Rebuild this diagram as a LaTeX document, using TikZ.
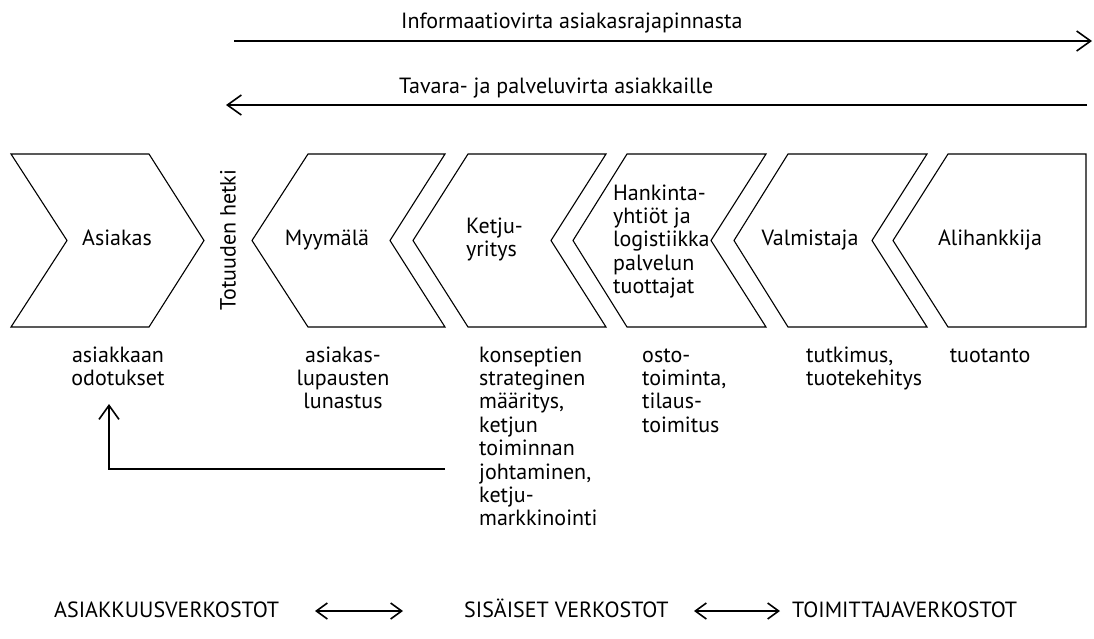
\documentclass[tikz,border=0pt]{standalone}
\usepackage{fontspec}
\setmainfont{PT Sans}
\usetikzlibrary{arrows.meta}
\begin{document}
\begin{tikzpicture}[x=1pt,y=-1pt,
  shp/.style={draw, line width=1.1pt, line join=miter},
  lbl/.style={font=\fontsize{22}{23.4}\selectfont, inner sep=0pt},
  captxt/.style={font=\fontsize{22}{24}\selectfont, inner sep=0pt},
  flow/.style={line width=1.8pt, -{Straight Barb[length=14pt,width=20pt,line width=1.6pt]}},
  fb/.style={line width=1.8pt, -{Straight Barb[length=14pt,width=20pt,line width=1.6pt]}},
  dbl/.style={line width=2pt, {Straight Barb[length=11pt,width=16pt,line width=1.6pt]}-{Straight Barb[length=11pt,width=16pt,line width=1.6pt]}}]
\useasboundingbox (0,0) rectangle (1094,638);
% flows at top
\node[captxt, anchor=base west] (info) at (401,28) {Informaatiovirta asiakasrajapinnasta};
\node[captxt, anchor=base west] (tav) at (399,93) {Tavara- ja palveluvirta asiakkaille};
\coordinate (i1) at (234,41); \coordinate (i2) at (1092,41);
\coordinate (t1) at (1087,105); \coordinate (t2) at (226,105);
\draw[flow] (i1) -- (i2);
\draw[flow] (t1) -- (t2);
% chevrons
\def\ym{240.5}
\draw[shp] (11,154) -- (149,154) -- (204,\ym) -- (149,327) -- (11,327) -- (67,\ym) -- cycle;
\draw[shp] (308,154) -- (445,154) -- (390,\ym) -- (445,327) -- (308,327) -- (252,\ym) -- cycle;
\draw[shp] (468,154) -- (606,154) -- (551,\ym) -- (606,327) -- (468,327) -- (413,\ym) -- cycle;
\draw[shp] (627,154) -- (766,154) -- (711,\ym) -- (766,327) -- (627,327) -- (573,\ym) -- cycle;
\draw[shp] (788,154) -- (927,154) -- (872,\ym) -- (927,327) -- (788,327) -- (734,\ym) -- cycle;
\draw[shp] (948,154) -- (1086,154) -- (1086,327) -- (948,327) -- (893,\ym) -- cycle;
% shape labels (multi-line nodes: base = last line)
\node[lbl, anchor=base] (asiakas) at (117,245) {Asiakas};
\node[lbl, anchor=center, rotate=90] (totuus) at (228,240) {Totuuden hetki};
\node[lbl, anchor=base] (myymala) at (327,245) {Myymälä};
\node[lbl, anchor=base west, align=left] (ketju) at (466,256.4) {Ketju-\\yritys};
\node[lbl, anchor=base west, align=left] (hank) at (613,293.6) {Hankinta-\\yhtiöt ja\\logistiikka\\palvelun\\tuottajat};
\node[lbl, anchor=base] (valm) at (810,245) {Valmistaja};
\node[lbl, anchor=base] (ali) at (990,245) {Alihankkija};
% lower labels
\node[lbl, anchor=base, align=center] (odot) at (118,385.4) {asiakkaan\\odotukset};
\node[lbl, anchor=base, align=center] (lupaus) at (343,408.8) {asiakas-\\lupausten\\lunastus};
\node[lbl, anchor=base west, align=left] (konsept) at (479,525.8) {konseptien\\strateginen\\määritys,\\ketjun\\toiminnan\\johtaminen,\\ketju-\\markkinointi};
\node[lbl, anchor=base west, align=left] (osto) at (642,432.2) {osto-\\toiminta,\\tilaus-\\toimitus};
\node[lbl, anchor=base west, align=left] (tutk) at (806,385.4) {tutkimus,\\tuotekehitys};
\node[lbl, anchor=base] (tuot) at (990,362) {tuotanto};
% feedback arrow
\coordinate (fbs) at (445,469);
\coordinate (fbe) at (109,404);
\draw[fb] (fbs) -| (fbe);
% bottom
\node[captxt, anchor=base west] (asnet) at (54,617) {ASIAKKUUSVERKOSTOT};
\node[captxt, anchor=base west] (sisnet) at (464,617) {SISÄISET VERKOSTOT};
\node[captxt, anchor=base west] (toimnet) at (792,617) {TOIMITTAJAVERKOSTOT};
\coordinate (d1a) at (315,611); \coordinate (d1b) at (403,611);
\coordinate (d2a) at (694,611); \coordinate (d2b) at (780,611);
\draw[dbl] (d1a) -- (d1b);
\draw[dbl] (d2a) -- (d2b);
\end{tikzpicture}
\end{document}
